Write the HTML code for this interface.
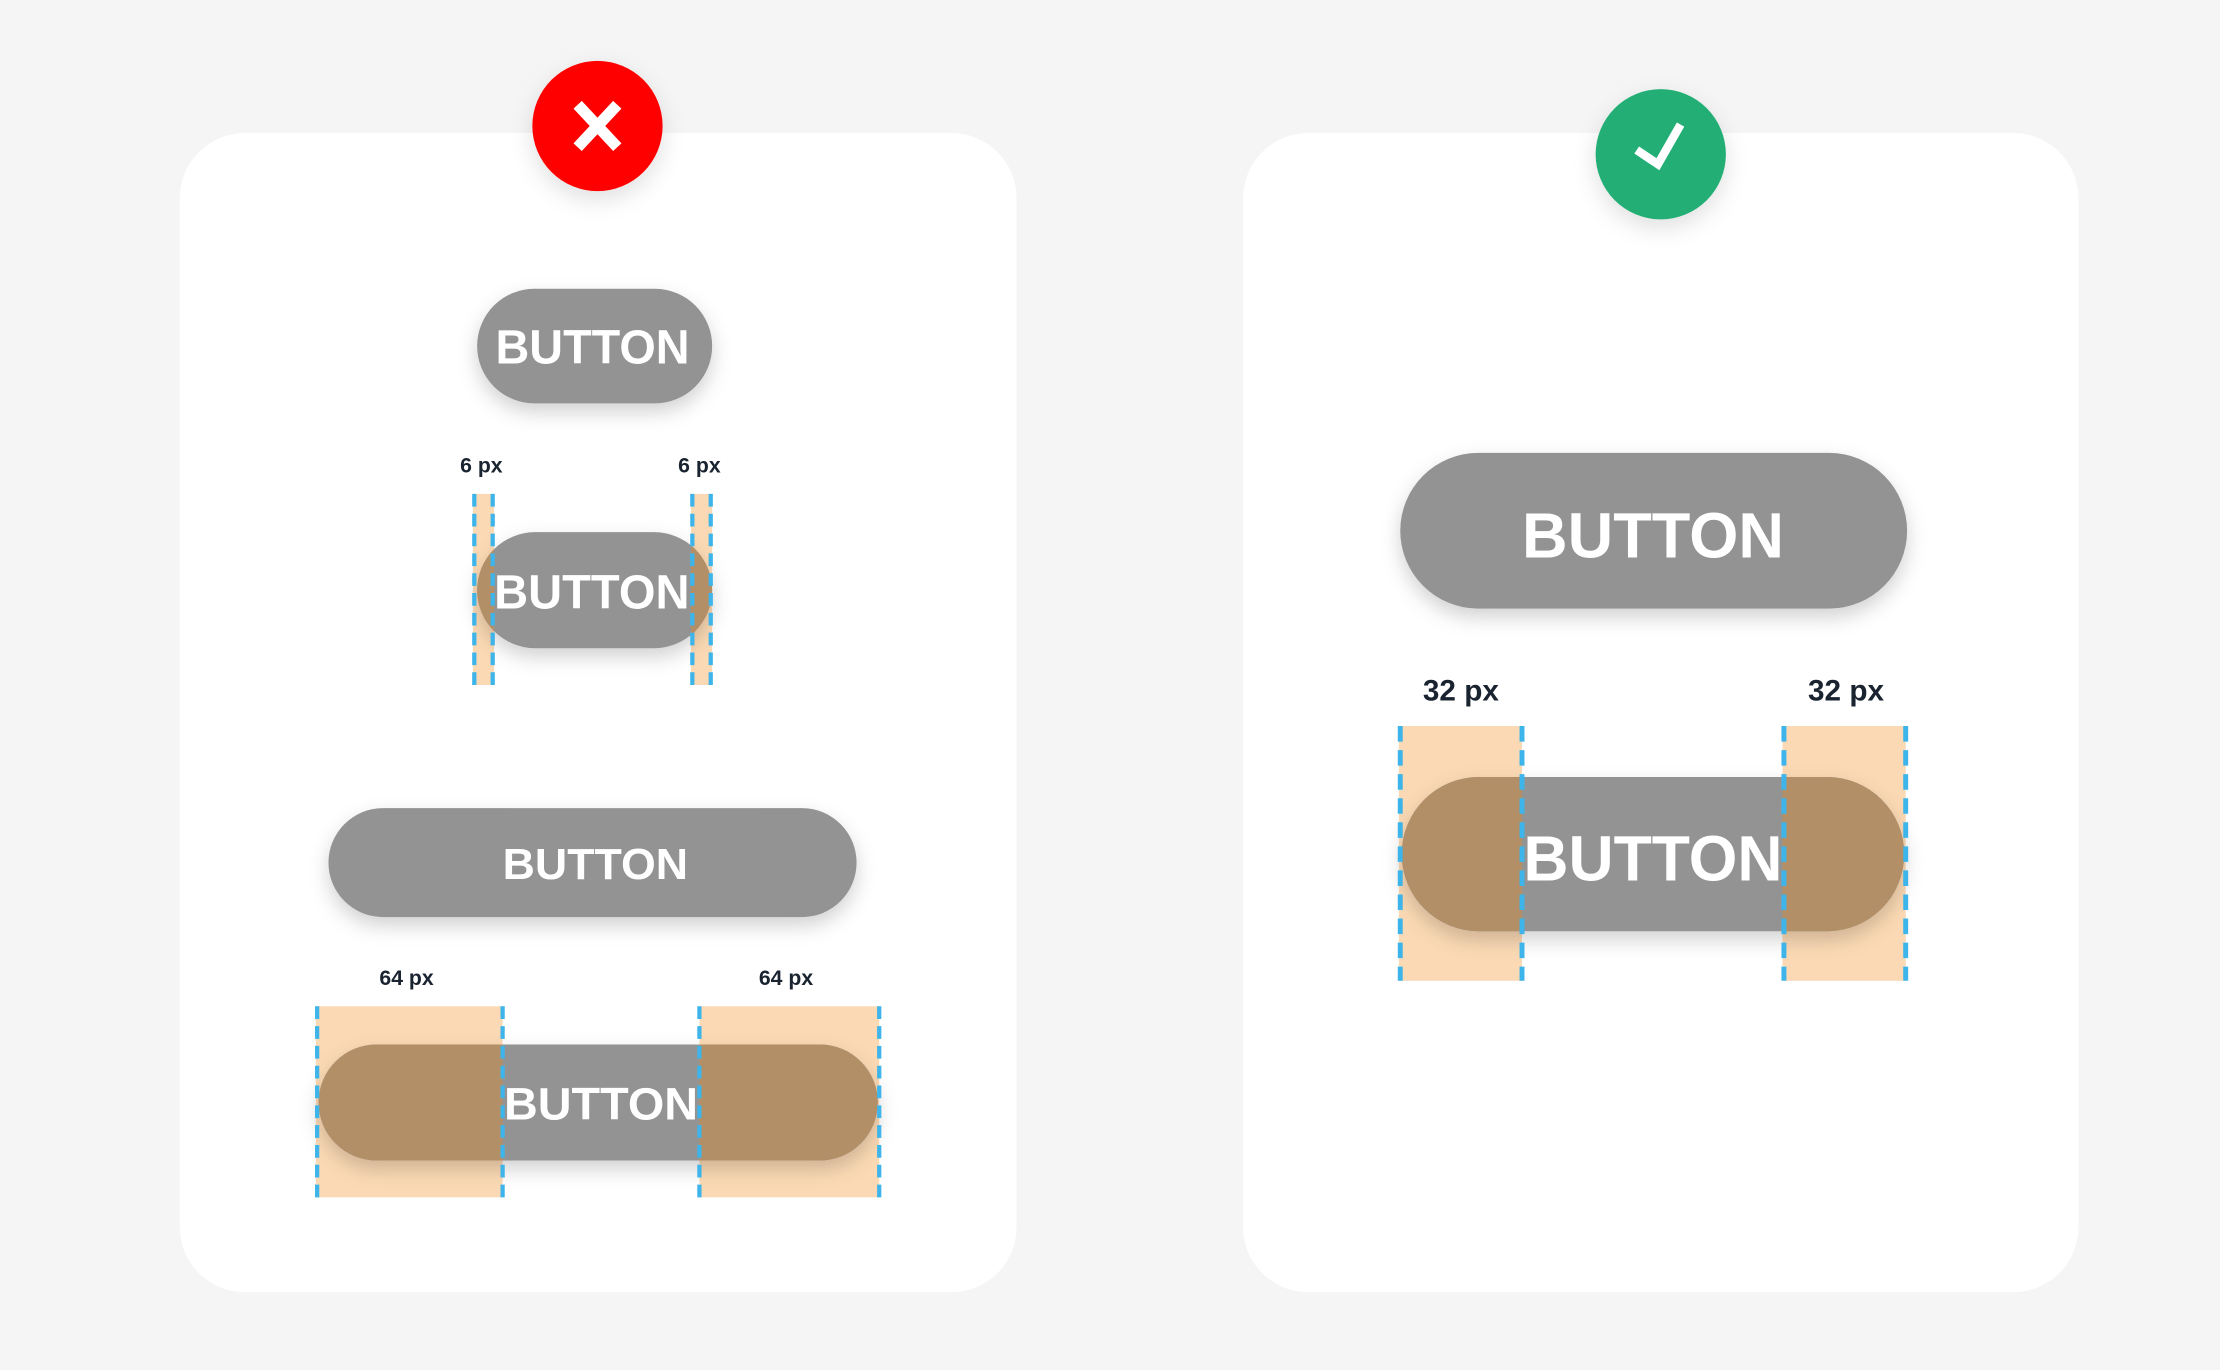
<!DOCTYPE html>
<html><head><meta charset="utf-8"><style>html,body{margin:0;padding:0;background:#f5f5f5;}svg{display:block}</style></head>
<body>
<svg width="2220" height="1370" viewBox="0 0 1568 968" preserveAspectRatio="none" xmlns="http://www.w3.org/2000/svg">
<defs>
<filter id="sh" x="-20%" y="-30%" width="140%" height="180%"><feDropShadow dx="0" dy="6" stdDeviation="7" flood-color="#000" flood-opacity="0.18"/></filter>
<filter id="cs" x="-30%" y="-30%" width="160%" height="170%"><feDropShadow dx="0" dy="6" stdDeviation="8" flood-color="#000" flood-opacity="0.12"/></filter>
<clipPath id="c2"><rect x="337" y="376" width="166" height="82" rx="41"/></clipPath>
<clipPath id="c4"><rect x="225" y="738" width="395" height="82" rx="41"/></clipPath>
<clipPath id="c6"><rect x="990" y="549" width="355" height="109" rx="54.5"/></clipPath>
</defs>
<rect width="1568" height="968" fill="#f5f5f5"/>
<rect x="127" y="94" width="591" height="819" rx="46" fill="#fff"/>
<rect x="878" y="94" width="590" height="819" rx="46" fill="#fff"/>

<circle cx="422" cy="89" r="46" fill="#fe0000" filter="url(#cs)"/>
<path d="M408 74 L436 104 M436 74 L408 104" stroke="#fff" stroke-width="8" fill="none"/>
<circle cx="1173" cy="109" r="46" fill="#22ae74" filter="url(#cs)"/>
<path d="M1156 106 L1171 116 L1187 88" stroke="#fff" stroke-width="6" fill="none"/>

<g font-family="'Liberation Sans',sans-serif" font-weight="bold">
<rect x="337" y="204" width="166" height="81" rx="40.5" fill="#939393" filter="url(#sh)"/>
<text x="350" y="257" font-size="34" fill="#fff" textLength="137" lengthAdjust="spacingAndGlyphs">BUTTON</text>

<text x="325" y="334" font-size="15" fill="#1a2330">6 px</text>
<text x="479" y="334" font-size="15" fill="#1a2330">6 px</text>
<rect x="334" y="349" width="15" height="135" fill="#fbd9b4"/>
<rect x="488" y="349" width="15" height="135" fill="#fbd9b4"/>
<rect x="337" y="376" width="166" height="82" rx="41" fill="#939393" filter="url(#sh)"/>
<g clip-path="url(#c2)"><rect x="334" y="349" width="15" height="135" fill="#b38f68"/><rect x="488" y="349" width="15" height="135" fill="#b38f68"/></g>
<text x="349" y="430" font-size="34" fill="#fff" textLength="138" lengthAdjust="spacingAndGlyphs">BUTTON</text>
<g stroke="#3db5ea" stroke-width="3" stroke-dasharray="9,5"><line x1="335" y1="349" x2="335" y2="484"/><line x1="348" y1="349" x2="348" y2="484"/><line x1="489" y1="349" x2="489" y2="484"/><line x1="502" y1="349" x2="502" y2="484"/></g>

<rect x="232" y="571" width="373" height="77" rx="38.5" fill="#939393" filter="url(#sh)"/>
<text x="355" y="621" font-size="31" fill="#fff" textLength="131" lengthAdjust="spacingAndGlyphs">BUTTON</text>

<text x="268" y="696" font-size="15" fill="#1a2330">64 px</text>
<text x="536" y="696" font-size="15" fill="#1a2330">64 px</text>
<rect x="223" y="711" width="132" height="135" fill="#fbd9b4"/>
<rect x="494" y="711" width="127" height="135" fill="#fbd9b4"/>
<rect x="225" y="738" width="395" height="82" rx="41" fill="#939393" filter="url(#sh)"/>
<g clip-path="url(#c4)"><rect x="223" y="711" width="132" height="135" fill="#b38f68"/><rect x="494" y="711" width="127" height="135" fill="#b38f68"/></g>
<text x="356" y="791" font-size="32" fill="#fff" textLength="137" lengthAdjust="spacingAndGlyphs">BUTTON</text>
<g stroke="#3db5ea" stroke-width="3" stroke-dasharray="9,5"><line x1="224" y1="711" x2="224" y2="846"/><line x1="355" y1="711" x2="355" y2="846"/><line x1="494" y1="711" x2="494" y2="846"/><line x1="621" y1="711" x2="621" y2="846"/></g>

<rect x="989" y="320" width="358" height="110" rx="55" fill="#939393" filter="url(#sh)"/>
<text x="1075" y="394" font-size="45" fill="#fff" textLength="185" lengthAdjust="spacingAndGlyphs">BUTTON</text>

<text x="1005" y="495" font-size="21" fill="#1a2330">32 px</text>
<text x="1277" y="495" font-size="21" fill="#1a2330">32 px</text>
<rect x="988" y="513" width="87" height="180" fill="#fbd9b4"/>
<rect x="1259" y="513" width="87" height="180" fill="#fbd9b4"/>
<rect x="990" y="549" width="355" height="109" rx="54.5" fill="#939393" filter="url(#sh)"/>
<g clip-path="url(#c6)"><rect x="988" y="513" width="87" height="180" fill="#b38f68"/><rect x="1259" y="513" width="87" height="180" fill="#b38f68"/></g>
<text x="1076" y="622" font-size="45" fill="#fff" textLength="183" lengthAdjust="spacingAndGlyphs">BUTTON</text>
<g stroke="#3db5ea" stroke-width="3.5" stroke-dasharray="11,6"><line x1="989" y1="513" x2="989" y2="693"/><line x1="1075" y1="513" x2="1075" y2="693"/><line x1="1260" y1="513" x2="1260" y2="693"/><line x1="1346" y1="513" x2="1346" y2="693"/></g>
</g>
</svg>
</body></html>
